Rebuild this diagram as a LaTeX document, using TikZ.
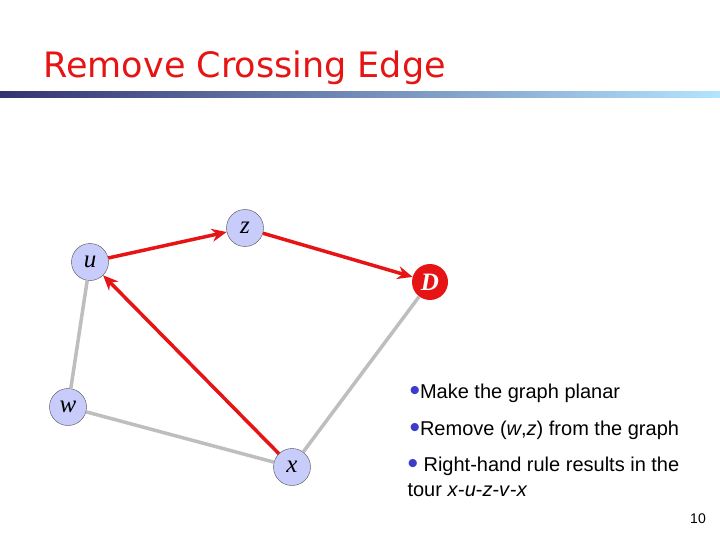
\documentclass[tikz,border=0pt]{standalone}
\usepackage{fontspec}
\setmainfont{Liberation Sans}
\newfontfamily\titlefont{DejaVu Sans}
\newfontfamily\serifit{Liberation Serif}
\usetikzlibrary{arrows.meta}
\definecolor{nodefill}{RGB}{200,204,250}
\definecolor{redline}{RGB}{230,20,20}
\definecolor{grayline}{RGB}{190,190,190}
\definecolor{bulletblue}{RGB}{60,60,200}
\tikzset{
 vert/.style={circle,draw=black!70,fill=nodefill,minimum size=37pt,inner sep=0pt,font=\serifit\itshape\fontsize{25}{25}\selectfont},
 dnode/.style={circle,fill=redline,text=white,minimum size=36pt,inner sep=0pt,font=\serifit\bfseries\itshape\fontsize{25}{25}\selectfont},
 redarrow/.style={draw=redline,line width=3.5pt,-{Stealth[length=15pt,width=13pt]}},
 grayedge/.style={draw=grayline,line width=3.5pt},
 bul/.style={anchor=west,font=\fontsize{20}{25}\selectfont,align=left}
}
\newcommand{\bdot}{{\color{bulletblue}\raisebox{-2pt}{\fontsize{30}{24}\selectfont\textbullet}}}
\begin{document}
\begin{tikzpicture}[x=1pt,y=-1pt]
\useasboundingbox (0,0) rectangle (720,540);
\fill[white] (0,0) rectangle (720,540);
\node[anchor=west,text=redline,font=\titlefont\fontsize{35}{38}\selectfont] (title) at (40,68) {Remove Crossing Edge};
\shade[left color=black!60!blue!60!gray, right color=blue!35!cyan!30] (0,92) rectangle (720,98);
\node[vert] (z) at (245,228) {z};
\node[vert] (u) at (90,262) {u};
\node[dnode] (D) at (430,282) {D};
\node[vert] (w) at (68,407) {w};
\node[vert] (x) at (292,467) {x};
\draw[grayedge] (u) -- (w);
\draw[grayedge] (w) -- (x);
\draw[grayedge] (x) -- (D);
\draw[redarrow] (u) -- (z);
\draw[redarrow] (z) -- (D);
\draw[redarrow] (x) -- (u);
\node[bul] (b1) at (406,393) {\bdot Make the graph planar};
\node[bul] (b2) at (406,430) {\bdot Remove (\textit{w},\textit{z}) from the graph};
\node[bul] (b3) at (404,477) {\bdot\ Right-hand rule results in the\\tour \textit{x}-\textit{u}-\textit{z}-\textit{v}-\textit{x}};
\node[font=\fontsize{14}{14}\selectfont] (pg) at (698,519) {10};
\end{tikzpicture}
\end{document}
